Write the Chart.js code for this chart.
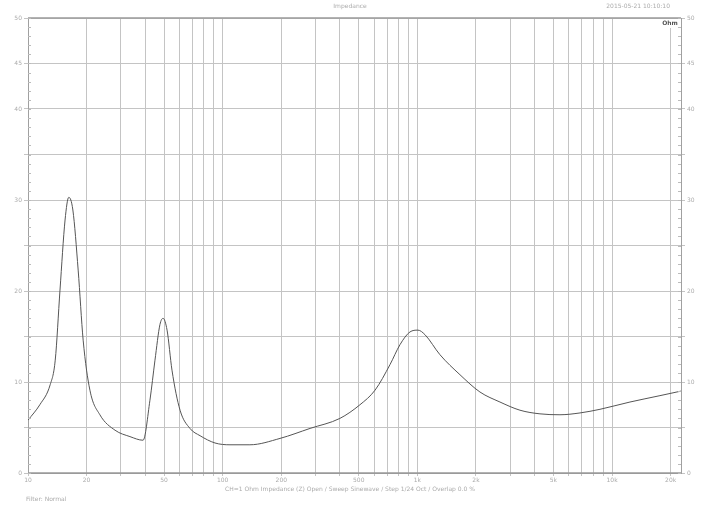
<!DOCTYPE html>
<html>
<head>
<meta charset="utf-8">
<script src="https://cdn.jsdelivr.net/npm/chart.js@4"></script>
<style>
  html, body { margin: 0; padding: 0; background: #fff; }
  #wrap { width: 707px; height: 510px; }
</style>
</head>
<body>
<div id="wrap"><canvas id="grafico" width="707" height="510"></canvas></div>
<script>
// frequencia (Hz) e impedancia (Ohm)
const frequencias = [10, 11.5, 13.0, 13.8, 14.6, 15.5, 16.2, 17.0, 18.1, 19.2, 20.8, 23.4, 28.0, 33.4, 39.0,
  42.3, 44.9, 47.6, 49.4, 51.8, 54.9, 60.4, 67.9, 76.5, 91.3, 109, 138, 197, 281, 400, 507, 606, 723, 814,
  916, 1007, 1094, 1306, 1655, 2096, 2656, 3365, 4263, 5400, 6842, 8668, 12360, 17620, 22600];
const impedancia = [5.8, 7.5, 9.7, 12.4, 20.1, 27.8, 30.3, 28.9, 22.3, 14.6, 9.1, 6.4, 4.7, 4.0, 3.6,
  8.0, 12.4, 16.3, 17.0, 15.7, 11.3, 6.9, 4.9, 4.1, 3.3, 3.1, 3.1, 3.8, 4.9, 6.0, 7.5, 9.1, 11.9, 14.1,
  15.5, 15.7, 15.2, 13.0, 10.8, 8.9, 7.8, 6.9, 6.5, 6.4, 6.6, 7.0, 7.8, 8.5, 9.0];

// linhas de grade e rotulos do eixo x
const gradeX = [10, 20, 30, 40, 50, 60, 70, 80, 90, 100, 200, 300, 400, 500, 600, 700, 800, 900,
  1000, 2000, 3000, 4000, 5000, 6000, 7000, 8000, 9000, 10000, 20000];
const rotulosX = { 10: '10', 20: '20', 50: '50', 100: '100', 200: '200', 500: '500',
  1000: '1k', 2000: '2k', 5000: '5k', 10000: '10k', 20000: '20k' };
const rotulosY = [0, 10, 20, 30, 40, 45, 50];

const cinzaTexto = '#ababab';
const fonteMini = { family: 'DejaVu Sans', size: 6 };

const textos = {
  id: 'textos',
  afterDraw(chart) {
    const ctx = chart.ctx;
    const a = chart.chartArea;
    ctx.save();
    ctx.font = '6px "DejaVu Sans"';
    ctx.fillStyle = cinzaTexto;
    ctx.textBaseline = 'middle';
    ctx.textAlign = 'center';
    ctx.fillText('Impedance', 350, 6);
    ctx.textAlign = 'right';
    ctx.fillText('2015-05-21 10:10:10', 670, 6);
    ctx.textAlign = 'center';
    ctx.fillText('CH=1 Ohm Impedance (Z) Open / Sweep Sinewave / Step 1/24 Oct / Overlap 0.0 %', 350, 489);
    ctx.textAlign = 'left';
    ctx.fillText('Filter: Normal', 26, 499);

    // caixa no canto superior direito
    ctx.fillStyle = '#ffffff';
    ctx.fillRect(a.right - 20, a.top + 1, 18, 9);
    ctx.fillStyle = '#555';
    ctx.font = 'bold 6px "DejaVu Sans"';
    ctx.textAlign = 'center';
    ctx.fillText('Ohm', a.right - 11, a.top + 5);

    // moldura
    ctx.strokeStyle = '#9a9a9a';
    ctx.lineWidth = 1.5;
    ctx.beginPath();
    ctx.moveTo(a.left, a.top); ctx.lineTo(a.right, a.top);
    ctx.moveTo(a.left, a.bottom); ctx.lineTo(a.right, a.bottom);
    ctx.stroke();

    // marcas menores nos eixos
    const sy = chart.scales.y;
    ctx.strokeStyle = '#bbbbbb';
    ctx.lineWidth = 1;
    ctx.beginPath();
    for (let v = 0; v <= 50; v++) {
      const p = Math.round(sy.getPixelForValue(v)) + 0.5;
      ctx.moveTo(a.left, p); ctx.lineTo(a.left + 3, p);
      ctx.moveTo(a.right - 3, p); ctx.lineTo(a.right, p);
    }
    ctx.stroke();
    ctx.restore();
  }
};

function montarGrafico() {
  const ctx = document.getElementById('grafico');
  new Chart(ctx, {
    type: 'line',
    data: {
      datasets: [{
        data: frequencias.map((f, i) => ({ x: f, y: impedancia[i] })),
        borderColor: '#555555',
        borderWidth: 1,
        pointRadius: 0,
        cubicInterpolationMode: 'monotone',
        fill: false
      }, {
        data: [],
        yAxisID: 'y2'
      }]
    },
    options: {
      responsive: false,
      animation: false,
      layout: { padding: { top: 18, left: 0, right: 0, bottom: 0 } },
      plugins: { legend: { display: false }, tooltip: { enabled: false } },
      scales: {
        x: {
          type: 'logarithmic',
          min: 10,
          max: 22600,
          afterBuildTicks: s => { s.ticks = gradeX.map(v => ({ value: v })); },
          afterFit: s => { s.height = 37; },
          ticks: {
            autoSkip: false,
            maxRotation: 0,
            font: fonteMini,
            color: cinzaTexto,
            padding: 1,
            callback: v => rotulosX[v] || ''
          },
          grid: { color: '#c4c4c4', lineWidth: 1, tickLength: 3 },
          border: { color: '#9a9a9a' }
        },
        y: {
          type: 'linear',
          position: 'left',
          min: 0,
          max: 50,
          afterFit: s => { s.width = 28; },
          ticks: {
            stepSize: 5,
            font: fonteMini,
            color: cinzaTexto,
            padding: 2,
            callback: v => rotulosY.includes(v) ? String(v) : ''
          },
          grid: { color: '#c4c4c4', lineWidth: 1, tickLength: 4 },
          border: { color: '#a0a0a0' }
        },
        y2: {
          type: 'linear',
          position: 'right',
          min: 0,
          max: 50,
          afterFit: s => { s.width = 26; },
          ticks: {
            stepSize: 5,
            font: fonteMini,
            color: cinzaTexto,
            padding: 2,
            callback: v => rotulosY.includes(v) ? String(v) : ''
          },
          grid: { drawOnChartArea: false, tickLength: 4, color: '#c4c4c4' },
          border: { color: '#a0a0a0' }
        }
      }
    },
    plugins: [textos]
  });
}

montarGrafico();
</script>
</body>
</html>
